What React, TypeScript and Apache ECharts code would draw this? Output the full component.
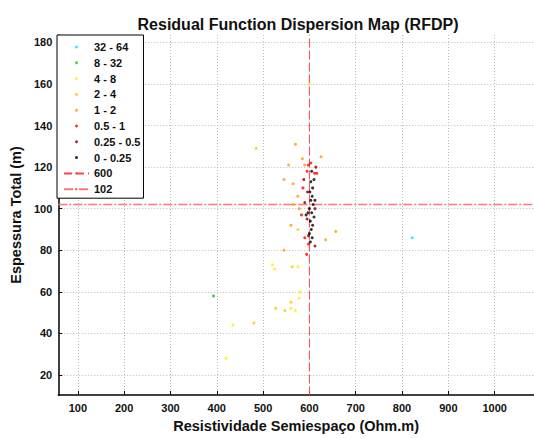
import React, { useEffect, useRef } from "react";
import * as echarts from "echarts";

const TITLE = "Residual Function Dispersion Map (RFDP)";
const X_NAME = "Resistividade Semiespaço (Ohm.m)";
const Y_NAME = "Espessura Total (m)";
const X_TICKS = [100, 200, 300, 400, 500, 600, 700, 800, 900, 1000];
const Y_TICKS = [20, 40, 60, 80, 100, 120, 140, 160, 180];
const X_RANGE = [57.7, 1085];
const Y_RANGE = [10.3, 183.6];
const VLINE = 600;
const HLINE = 102;

const CLASS_NAMES = ["32 - 64", "8 - 32", "4 - 8", "2 - 4", "1 - 2", "0.5 - 1", "0.25 - 0.5", "0 - 0.25"];
const CLASS_COLORS = ["#00e5ff", "#22bb22", "#ffee00", "#ffc800", "#ff9900", "#ff0000", "#8b0000", "#000000"];

const P_32_64 = [[822, 86]];
const P_8_32 = [[393, 58]];
const P_4_8 = [[600, 160], [520, 73], [525, 71], [435, 44], [420, 28], [575, 72], [580, 60], [578, 57], [560, 52], [570, 51]];
const P_2_4 = [[485, 129], [480, 45], [527, 52], [547, 51], [560, 55], [563, 72], [575, 90]];
const P_1_2 = [[570, 131], [555, 121], [545, 114], [565, 112], [575, 106], [560, 92], [625, 125], [657, 89], [635, 85], [545, 80], [585, 124], [578, 100], [590, 121], [565, 102]];
const P_05_1 = [[598, 121], [595, 118], [603, 122], [586, 110], [583, 97], [590, 86], [598, 83], [594, 78], [611, 117], [616, 117]];
const P_025_05 = [[596, 108], [590, 103], [595, 95], [612, 100], [598, 87], [588, 114], [614, 120], [612, 82]];
const P_0_025 = [[605, 118], [603, 113], [607, 110], [601, 108], [606, 106], [603, 104], [608, 102], [600, 100], [605, 98], [610, 96], [602, 94], [607, 92], [604, 90], [600, 88], [606, 86], [602, 84], [597, 98], [593, 97], [612, 104], [610, 114]];

const CLASS_DATA = [P_32_64, P_8_32, P_4_8, P_2_4, P_1_2, P_05_1, P_025_05, P_0_025];

export default function App() {
  const ref = useRef<HTMLDivElement>(null);
  useEffect(() => {
    if (!ref.current) return;
    const chart = echarts.init(ref.current, null, { renderer: "svg" });
    const font = "Liberation Sans, Arial, sans-serif";
    const scatterSeries = CLASS_NAMES.map((name, i) => ({
      name,
      type: "scatter",
      data: CLASS_DATA[i],
      symbol: "circle",
      symbolSize: 3,
      itemStyle: { color: CLASS_COLORS[i] },
      z: 10 + i,
    }));
    chart.setOption({
      animation: false,
      backgroundColor: "#ffffff",
      title: {
        text: TITLE,
        left: 293,
        top: 11,
        textAlign: "center",
        textStyle: { fontFamily: font, fontSize: 16, fontWeight: "bold", color: "#111" },
      },
      grid: { left: 53, top: 35, width: 481, height: 371 },
      legend: {
        left: 57,
        top: 35,
        orient: "vertical",
        itemWidth: 25,
        itemHeight: 3,
        itemGap: 1.8,
        padding: [5, 3, 2, 6],
        borderColor: "#000",
        borderWidth: 1,
        backgroundColor: "#fff",
        textStyle: { fontFamily: font, fontSize: 11, fontWeight: "bold", color: "#111", lineHeight: 14 },
        data: [...CLASS_NAMES, String(VLINE), String(HLINE)],
      },
      xAxis: {
        type: "value",
        min: X_RANGE[0],
        max: X_RANGE[1],
        name: X_NAME,
        nameLocation: "middle",
        nameGap: 23,
        nameTextStyle: { fontFamily: font, fontSize: 14.5, fontWeight: "bold", color: "#111" },
        axisLine: { lineStyle: { color: "#000", width: 1.5 } },
        axisTick: { inside: true, length: 4, customValues: X_TICKS, lineStyle: { color: "#000" } },
        axisLabel: { customValues: X_TICKS, formatter: (v: number) => String(v), fontFamily: font, fontSize: 11, fontWeight: "bold", color: "#111", margin: 7 },
        splitLine: { show: true, lineStyle: { color: "#bbb", type: [1, 2], width: 1 } },
      },
      yAxis: {
        type: "value",
        min: Y_RANGE[0],
        max: Y_RANGE[1],
        name: Y_NAME,
        nameLocation: "middle",
        nameGap: 28,
        nameTextStyle: { fontFamily: font, fontSize: 14.5, fontWeight: "bold", color: "#111" },
        axisLine: { show: true, lineStyle: { color: "#000", width: 1.5 } },
        axisTick: { show: true, inside: true, length: 4, customValues: Y_TICKS, lineStyle: { color: "#000" } },
        axisLabel: { customValues: Y_TICKS, formatter: (v: number) => String(v), fontFamily: font, fontSize: 11, fontWeight: "bold", color: "#111", margin: 6 },
        splitLine: { show: true, lineStyle: { color: "#bbb", type: [1, 2], width: 1 } },
      },
      series: [
        ...scatterSeries,
        {
          name: String(VLINE),
          type: "line",
          data: [[VLINE, Y_RANGE[0]], [VLINE, Y_RANGE[1]]],
          symbol: "none",
          lineStyle: { color: "#ff4444", width: 1, type: [8, 4] },
          itemStyle: { color: "#ff4444" },
          z: 5,
        },
        {
          name: String(HLINE),
          type: "line",
          data: [[X_RANGE[0], HLINE], [X_RANGE[1], HLINE]],
          symbol: "none",
          lineStyle: { color: "#ff7777", width: 1.5, type: [9, 2, 2, 2] },
          itemStyle: { color: "#ff7777" },
          z: 5,
        },
      ],
    });
    return () => chart.dispose();
  }, []);
  return <div ref={ref} style={{ position: "absolute", left: 0, top: 0, width: 534, height: 438 }} />;
}
